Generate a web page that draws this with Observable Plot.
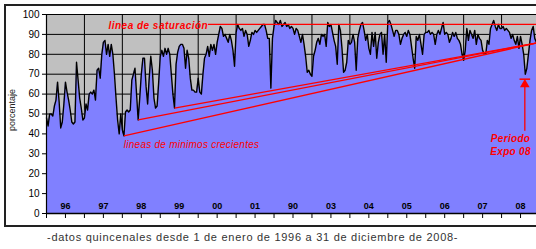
<!DOCTYPE html>
<html>
<head>
<meta charset="utf-8">
<script src="https://cdn.jsdelivr.net/npm/d3@7"></script>
<script src="https://cdn.jsdelivr.net/npm/@observablehq/plot@0.6"></script>
<style>
  html, body { margin: 0; padding: 0; background: #fff; overflow: hidden; width: 536px; height: 249px; }
  #wrap { position: relative; width: 536px; height: 249px; }
  #chart { position: absolute; left: 0; top: 0; }
  #border { position: absolute; left: 4px; top: 4px; width: 600px; height: 219px; border: 2px solid #222; pointer-events: none; }
  #caption { position: absolute; left: 47px; top: 229px; font: 11px "Liberation Sans", Arial, sans-serif; color: #333; letter-spacing: 0.72px; white-space: nowrap; line-height: 16px; }
</style>
</head>
<body>
<div id="wrap">
  <div id="chart"></div>
  <div id="border"></div>
  <div id="caption">-datos quincenales desde 1 de enero de 1996 a 31 de diciembre de 2008-</div>
</div>
<script>
// Fortnightly values (24 per year), percent
const v1996 = [48,44,50,50,49,54,57,66,56,43,46,55,66,61,57,52,46,45,46,76,67,58,53,47];
const v1997 = [48,55,52,60,61,60,62,57,72,73,68,80,86,87,80,85,79,85,80,70,58,47,40,50];
const v1998 = [42,39,51,52,51,52,67,70,73,60,47,58,70,78,78,64,55,68,79,72,58,53,54,66];
const v1999 = [79,82,79,83,80,83,80,70,60,53,75,81,84,85,85,83,73,82,78,68,62,62,61,61];
const v2000 = [68,61,60,70,78,80,84,79,85,82,85,80,86,90,94,93,89,90,88,86,90,87,82,74];
const v2001 = [91,95,93,92,93,89,92,90,84,87,91,90,92,91,92,93,94,95,95,92,88,88,63,88];
const v2002 = [94,97,96,95,97,94,95,96,94,95,93,94,93,90,93,92,89,86,90,85,79,71,72,70];
const v2003 = [69,79,82,86,88,85,90,89,90,84,96,94,95,91,87,84,75,95,92,83,71,72,76,87];
const v2004 = [85,86,90,86,72,88,92,95,96,92,87,90,83,80,91,84,91,78,86,90,91,80,90,76];
const v2005 = [96,97,95,92,89,92,92,90,85,88,90,91,89,92,90,84,78,73,89,87,90,85,80,90];
const v2006 = [91,91,92,90,91,90,85,90,92,90,93,96,90,91,90,86,88,91,89,91,88,87,85,80];
const v2007 = [77,82,93,87,92,90,88,92,85,90,88,87,82,80,80,87,85,93,95,97,94,92,95,93];
const v2008 = [93,94,92,93,92,91,88,90,87,85,89,83,89,85,80,70,73,80,87,92,94,88,86,85];

const years = [1996,1997,1998,1999,2000,2001,2002,2003,2004,2005,2006,2007,2008];
const yearLabels = ["96","97","98","99","00","01","90","03","04","05","06","07","08"];
const yTicks = [0,10,20,30,40,50,60,70,80,90,100];

// annotations (data coordinates: year fraction, percent)
const saturation = 95;
const saturationStart = 2000.27;
const minLines = [
  {t1: 1998.042, v1: 39, t2: 2008.92, v2: 85.7},
  {t1: 1998.417, v1: 47, t2: 2008.92, v2: 85.7},
  {t1: 1999.375, v1: 53, t2: 2008.92, v2: 85.7}
];
const expoArrow = {t: 2008.613, vBase: 41.6, vHead: 64.8, vBar: 67.5, half: 0.14};
const labels = [
  {text: "linea de saturación", t: 1997.635, v: 94.6, weight: "bold", anchor: "start", spacing: "0.48px"},
  {text: "lineas de minimos crecientes", t: 1998.04, v: 35, weight: "normal", anchor: "start", spacing: "0.25px"},
  {text: "Periodo\nExpo 08", t: 2008.236, v: 34.7, weight: "bold", anchor: "middle", spacing: "0.3px"}
];
const axisTitle = {text: "porcentaje", t: 1995.103, v: 52};

const series = [v1996,v1997,v1998,v1999,v2000,v2001,v2002,v2003,v2004,v2005,v2006,v2007,v2008];
const data = [];
series.forEach((arr, k) => arr.forEach((v, j) => data.push({t: years[k] + j / 24, v})));
const halfYears = [];
years.forEach(y => { halfYears.push(y, y + 0.5); });
halfYears.push(2009);

const red = "#ff0000";
const chart = Plot.plot({
  width: 536,
  height: 229,
  marginLeft: 46,
  marginTop: 14,
  marginBottom: 16,
  marginRight: 0,
  x: {domain: [1996, 2009], range: [46, 539]},
  y: {domain: [0, 100]},
  style: {fontFamily: "'Liberation Sans', Arial, sans-serif", fontSize: "10px", color: "#000", background: "transparent", overflow: "visible"},
  marks: [
    Plot.frame({fill: "#c0c0c0"}),
    Plot.gridY(yTicks, {stroke: "#000", strokeOpacity: 1}),
    Plot.gridX(years.slice(1), {stroke: "#000", strokeOpacity: 1}),
    Plot.areaY(data, {x: "t", y: "v", fill: "#8080ff"}),
    Plot.lineY(data, {x: "t", y: "v", stroke: "#000", strokeWidth: 1.4}),
    Plot.ruleY([saturation], {x1: saturationStart, x2: 2009, stroke: red, strokeWidth: 1.2}),
    Plot.link(minLines, {x1: "t1", y1: "v1", x2: "t2", y2: "v2", stroke: red, strokeWidth: 1.3}),
    Plot.link([expoArrow], {x1: "t", x2: "t", y1: "vBase", y2: "vHead", stroke: red, strokeWidth: 1.3}),
    Plot.dot([expoArrow], {x: "t", y: "vHead", symbol: "triangle", r: 3.6, fill: red, stroke: "none"}),
    Plot.link([expoArrow], {x1: d => d.t - d.half, x2: d => d.t + d.half, y1: "vBar", y2: "vBar", stroke: red, strokeWidth: 1.5}),
    ...labels.map(l => Plot.text([l], {x: "t", y: "v", text: "text", fill: red, fontStyle: "italic", fontWeight: l.weight, fontSize: 10, textAnchor: l.anchor, lineAnchor: "middle", lineHeight: 1.3})),
    Plot.axisY({ticks: yTicks, tickSize: 4, tickPadding: 3, fontSize: 10, label: null}),
    Plot.axisX({ticks: halfYears, tickSize: 5, tickFormat: () => "", label: null}),
    Plot.ruleX([1996], {stroke: "#000", strokeWidth: 1.2}),
    Plot.ruleY([0], {stroke: "#000", strokeWidth: 1.5}),
    Plot.text(years, {x: d => d + 0.5, y: 3.8, text: (d, i) => yearLabels[i], fontWeight: "bold", fontSize: 9, lineAnchor: "middle", fill: "#000"}),
    Plot.text([axisTitle], {x: "t", y: "v", text: "text", rotate: -90, fontSize: 9, fill: "#222", clip: false})
  ]
});
// letter spacing for the red annotation labels
d3.select(chart).selectAll("text").each(function() {
  const t = this.textContent;
  const lab = labels.find(l => l.text.replace("\n", "") === t || l.text.split("\n").includes(t));
  if (lab) this.style.letterSpacing = lab.spacing;
});
document.getElementById("chart").appendChild(chart);
</script>
</body>
</html>
